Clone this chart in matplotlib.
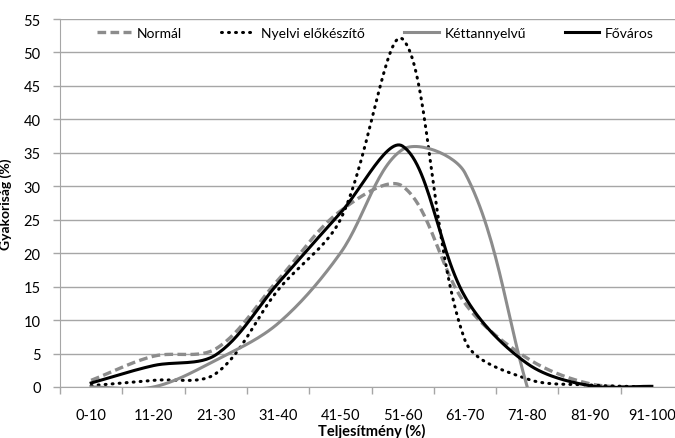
import numpy as np
import matplotlib
matplotlib.use("Agg")
import matplotlib.pyplot as plt

categories = ['0-10', '11-20', '21-30', '31-40', '41-50',
              '51-60', '61-70', '71-80', '81-90', '91-100']
normal = [1.0, 4.6, 5.7, 16.0, 26.3, 30.0, 12.5, 4.3, 0.5, 0.0]
nyelvi = [0.2, 1.0, 2.0, 14.5, 25.0, 52.0, 7.0, 1.2, 0.3, 0.0]
ketnyelvu = [0.0, 0.0, 4.0, 9.5, 20.0, 35.5, 32.0, 0.0]
fovaros = [0.6, 3.2, 4.8, 15.5, 26.0, 36.0, 13.5, 3.5, 0.2, 0.1]
y_ticks = list(range(0, 56, 5))

plt.rcParams['font.family'] = ['Lato', 'DejaVu Sans']
GRAY = '#8c8c8c'
GRID = '#a6a6a6'

fig = plt.figure(figsize=(6.75, 4.39), dpi=100)
ax = fig.add_axes([60 / 675, 51 / 439, 623 / 675, 368 / 439])
ax.set_xlim(-0.5, len(categories) - 0.5)
ax.set_ylim(0, 55)


def smooth(ax, ys, n=30):
    # excel-like smoothed line: bezier segments built in pixel space
    xs = np.arange(len(ys))
    p = ax.transData.transform(np.column_stack([xs, ys]))
    out = [p[0]]
    for i in range(len(p) - 1):
        p0 = p[i - 1] if i > 0 else p[i]
        p1, p2 = p[i], p[i + 1]
        p3 = p[i + 2] if i + 2 < len(p) else p[i + 1]
        d01 = np.hypot(*(p1 - p0))
        d12 = np.hypot(*(p2 - p1))
        d23 = np.hypot(*(p3 - p2))
        c1 = p1 + (p2 - p0) * d12 / (d01 + d12) / 3
        c2 = p2 - (p3 - p1) * d12 / (d12 + d23) / 3
        t = np.linspace(0, 1, n)[1:, None]
        seg = ((1 - t) ** 3 * p1 + 3 * (1 - t) ** 2 * t * c1
               + 3 * (1 - t) * t ** 2 * c2 + t ** 3 * p2)
        out.extend(seg)
    d = ax.transData.inverted().transform(np.array(out))
    return d[:, 0], d[:, 1]


ax.plot(*smooth(ax, normal), color=GRAY, lw=2.4, linestyle=(0, (2.6, 1.3)),
        label='Normál')
ax.plot(*smooth(ax, nyelvi), color='black', lw=2.2, linestyle=(0, (0.3, 2.0)),
        dash_capstyle='round', label='Nyelvi előkészítő')
ax.plot(*smooth(ax, ketnyelvu), color=GRAY, lw=2.2, label='Kéttannyelvű')
ax.plot(*smooth(ax, fovaros), color='black', lw=2.2, label='Főváros')

ax.set_yticks(y_ticks)
ax.yaxis.grid(True, color=GRID, lw=1)
ax.set_axisbelow(True)
ax.set_xticks(range(len(categories)))
ax.set_xticklabels(categories)
ax.set_xticks(np.arange(-0.5, len(categories)), minor=True)
ax.tick_params(axis='x', which='major', length=0, pad=15, labelsize=10.5)
ax.tick_params(axis='x', which='minor', length=5, color=GRID, width=1)
ax.tick_params(axis='y', length=5, color=GRID, width=1, pad=9, labelsize=10.5)
for s in ['top', 'right']:
    ax.spines[s].set_visible(False)
for s in ['left', 'bottom']:
    ax.spines[s].set_color(GRID)

ax.set_xlabel('Teljesítmény (%)', fontweight='bold', fontsize=10.5, labelpad=1)
ax.set_ylabel('Gyakoriság (%)', fontweight='bold', fontsize=10, labelpad=8)

ax.legend(loc='center left', bbox_to_anchor=(0.05, 0.962), ncol=4, frameon=False,
          fontsize=10, handlelength=2.5, handletextpad=0.4, columnspacing=2.8,
          borderaxespad=0)

fig.savefig('out.png', dpi=100)
